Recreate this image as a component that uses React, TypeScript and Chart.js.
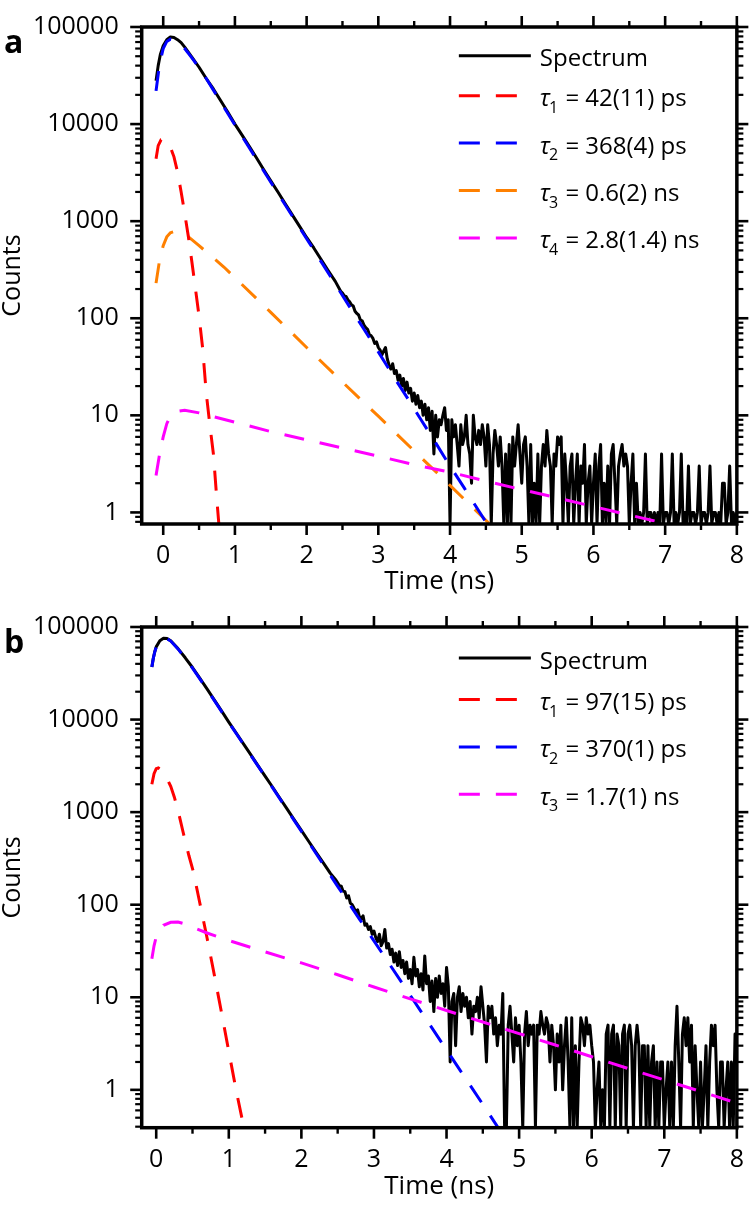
import React, { useEffect, useRef } from "react";
import { Chart, registerables } from "chart.js";

Chart.register(...registerables);

const FAMILY = "'Open Sans', 'Noto Sans', sans-serif";

// ---------- shared axis ticks ----------
const X_TICKS = [0, 1, 2, 3, 4, 5, 6, 7, 8];
const X_MINOR_TICKS = [0.5, 1.5, 2.5, 3.5, 4.5, 5.5, 6.5, 7.5];
const Y_TICKS = [1, 10, 100, 1000, 10000, 100000];
const TAIL_DT = 0.025; // spacing of the noisy histogram channels (ns)

const COLORS = { spectrum: "#000000", red: "#FF0000", blue: "#0000FF", orange: "#FF8000", magenta: "#FF00FF" };

// ---------- panel a ----------
const A_X_MIN = -0.3;
const A_X_MAX = 8;
const A_Y_MIN = 0.76;
const A_Y_MAX = 100000;
const A_LABELS = ["Spectrum", "τ₁ = 42(11) ps", "τ₂ = 368(4) ps", "τ₃ = 0.6(2) ns", "τ₄ = 2.8(1.4) ns"];

const A_SPEC_HEAD_T = [-0.10, -0.07, -0.04, 0.00, 0.05, 0.10, 0.15, 0.20, 0.25, 0.30, 0.40, 0.50, 0.60, 0.70, 0.80, 0.90, 1.00, 1.10, 1.20, 1.30, 1.40, 1.50, 1.60, 1.70, 1.80, 1.90, 2.00, 2.10, 2.20, 2.30, 2.40, 2.475];
const A_SPEC_HEAD_V = [28000, 40000, 52000, 64000, 74000, 79000, 78000, 74000, 69000, 62000, 49000, 38500, 29500, 23000, 17500, 13300, 10000, 7700, 5900, 4500, 3400, 2600, 2000, 1520, 1160, 890, 680, 530, 405, 310, 240, 190];
const A_SPEC_TAIL_T0 = 2.5;
const A_SPEC_TAIL = [
  182, 170, 168, 155, 148, 138, 134, 118, 112, 108, 96, 94, 85, 80, 77, 68, 66, 62, 55, 57, // 2.5
  50, 47, 42, 46, 50, 38, 33, 30, 34, 27, 29, 23, 26, 20, 24, 18, 22, 17, 19, 14, // 3.0
  17, 13, 16, 12, 14, 10, 13, 9, 12, 7, 11, 4, 10, 6, 9, 8, 10, 12, 7, 9, // 3.5
  0, 9, 6, 8, 5, 3, 8, 5, 6, 10, 5, 4, 2, 10, 6, 5, 7, 5, 8, 6, // 4.0
  3, 8, 5, 0, 4, 7, 5, 3, 6, 3, 0, 4, 0, 5, 0, 6, 3, 5, 8, 4, // 4.5
  2, 5, 6, 3, 0, 5, 0, 2, 0, 4, 0, 3, 5, 3, 7, 4, 3, 0, 4, 3, // 5.0
  6, 5, 6, 0, 4, 2, 0, 3, 4, 0, 2, 4, 0, 3, 2, 5, 0, 2, 3, 0, // 5.5
  2, 4, 0, 3, 5, 0, 2, 0, 3, 0, 4, 5, 2, 0, 3, 4, 5, 3, 4, 3, // 6.0
  0, 2, 4, 0, 2, 0, 1, 0, 1, 4, 0, 1, 1, 0, 1, 0, 1, 0, 4, 0, // 6.5
  1, 1, 0, 1, 4, 0, 1, 0, 1, 4, 0, 1, 0, 3, 0, 1, 1, 0, 1, 3, // 7.0
  0, 1, 1, 0, 1, 3, 0, 1, 1, 0, 1, 0, 2, 2, 0, 1, 3, 0, 1, 0, // 7.5
  1, // 8.0
];
const A_T1_T = [-0.10, -0.07, -0.03, 0.00, 0.05, 0.10, 0.15, 0.20, 0.25, 0.30, 0.35, 0.40, 0.45, 0.50, 0.55, 0.60, 0.65, 0.70, 0.75, 0.78];
const A_T1_V = [4400, 6000, 6900, 7000, 6600, 5800, 4600, 3200, 2000, 1200, 700, 380, 200, 105, 49, 17, 8, 4, 1.3, 0.7];
const A_T2_T = [-0.10, -0.05, 0.00, 0.05, 0.10, 0.15, 0.20, 0.30, 0.40, 0.50, 0.60, 0.80, 1.00, 1.20, 1.40, 1.60, 1.80, 2.00, 2.20, 2.40, 2.60, 2.80, 3.00, 3.20, 3.40, 3.60, 3.80, 4.00, 4.20, 4.40, 4.60];
const A_T2_V = [22000, 42000, 60000, 71000, 75000, 74000, 70000, 60000, 48000, 38000, 29500, 17000, 9800, 5700, 3300, 1930, 1130, 660, 385, 225, 131, 77, 45, 26, 15.3, 8.9, 5.2, 3.0, 1.78, 1.04, 0.61];
const A_T3_T = [-0.10, -0.05, 0.00, 0.05, 0.10, 0.15, 0.20, 0.30, 0.50, 0.85, 1.00, 1.50, 2.00, 2.50, 3.00, 3.50, 4.00, 4.50, 4.70];
const A_T3_V = [230, 400, 560, 690, 760, 780, 770, 740, 560, 335, 262, 115, 50, 22, 9.8, 4.3, 1.9, 0.83, 0.6];
const A_T4_T = [-0.10, -0.05, 0.00, 0.05, 0.10, 0.20, 0.30, 0.50, 1.00, 1.50, 2.00, 2.50, 3.00, 3.50, 4.00, 4.50, 5.00, 5.50, 6.00, 6.50, 7.00, 7.20];
const A_T4_V = [2.4, 4.0, 6.0, 8.2, 9.8, 11.0, 11.3, 10.6, 8.5, 6.8, 5.6, 4.6, 3.8, 3.1, 2.6, 2.1, 1.72, 1.41, 1.15, 0.94, 0.77, 0.71];

// ---------- panel b ----------
const B_X_MIN = -0.2;
const B_X_MAX = 8;
const B_Y_MIN = 0.39;
const B_Y_MAX = 100000;
const B_LABELS = ["Spectrum", "τ₁ = 97(15) ps", "τ₂ = 370(1) ps", "τ₃ = 1.7(1) ns"];

const B_SPEC_HEAD_T = [-0.06, -0.04, -0.02, 0.00, 0.05, 0.10, 0.15, 0.20, 0.30, 0.40, 0.50, 0.60, 0.70, 0.80, 0.90, 1.00, 1.10, 1.20, 1.30, 1.40, 1.50, 1.60, 1.70, 1.80, 1.90, 2.00, 2.10, 2.20, 2.30, 2.40, 2.475];
const B_SPEC_HEAD_V = [37000, 46000, 54000, 61000, 71000, 75500, 75000, 71000, 58500, 46500, 36500, 28000, 21500, 16300, 12400, 9400, 7200, 5500, 4200, 3200, 2450, 1880, 1430, 1090, 830, 635, 485, 370, 285, 218, 185];
const B_SPEC_TAIL_T0 = 2.5;
const B_SPEC_TAIL = [
  172, 160, 158, 140, 138, 118, 125, 104, 100, 92, 84, 88, 74, 70, 76, 60, 62, 54, 58, 48, // 2.5
  52, 44, 40, 48, 36, 40, 54, 34, 38, 29, 33, 24, 30, 22, 31, 21, 25, 18, 24, 16, // 3.0
  20, 14, 27, 17, 20, 13, 18, 12, 28, 14, 17, 9, 15, 7, 16, 10, 17, 11, 14, 8, // 3.5
  21, 13, 2, 9, 11, 3, 10, 13, 7, 11, 8, 10, 6, 9, 4, 8, 7, 10, 6, 13, // 4.0
  8, 5, 2, 8, 6, 8, 4, 6, 3, 5, 4, 11, 0, 0, 5, 8, 4, 2, 6, 3, // 4.5
  5, 2, 0, 4, 7, 3, 5, 4, 5, 0, 5, 4, 7, 5, 4, 6, 5, 2, 5, 3, // 5.0
  1, 4, 2, 5, 1, 3, 6, 2, 0, 6, 0, 3, 0, 2, 6, 5, 3, 6, 4, 5, // 5.5
  3, 2, 0, 1, 2, 0, 1, 0, 4, 5, 0, 4, 5, 0, 4, 3, 0, 4, 5, 0, // 6.0
  4, 5, 3, 0, 3, 5, 3, 0, 3, 3, 0, 3, 0, 2, 3, 0, 2, 0, 2, 2, // 6.5
  0, 1, 2, 0, 2, 0, 3, 8, 2, 0, 4, 6, 3, 6, 2, 5, 0, 3, 1, 0, // 7.0
  2, 0, 1, 3, 0, 2, 5, 3, 5, 1, 0, 2, 2, 0, 1, 2, 0, 2, 0, 4, // 7.5
  2, // 8.0
];
const B_T1_T = [-0.06, -0.03, 0.00, 0.03, 0.06, 0.10, 0.15, 0.20, 0.25, 0.30, 0.37, 0.45, 0.51, 0.60, 0.70, 0.80, 0.90, 1.00, 1.10, 1.20, 1.22];
const B_T1_V = [2000, 2600, 2950, 3000, 2900, 2650, 2300, 1900, 1450, 1050, 610, 340, 230, 105, 44, 17.5, 6.8, 2.6, 1.0, 0.42, 0.36];
const B_T2_T = [-0.06, -0.04, -0.02, 0.00, 0.05, 0.10, 0.15, 0.20, 0.30, 0.40, 0.50, 0.70, 1.00, 1.30, 1.60, 1.90, 2.20, 2.50, 2.80, 3.10, 3.40, 3.70, 4.00, 4.30, 4.60, 4.75];
const B_T2_V = [37000, 46000, 54000, 60500, 70500, 75000, 74500, 70500, 58000, 46000, 36000, 21200, 9300, 4150, 1850, 815, 360, 158, 70, 31, 13.8, 6.1, 2.7, 1.2, 0.53, 0.35];
const B_T3_T = [-0.06, -0.03, 0.00, 0.05, 0.10, 0.20, 0.30, 0.40, 0.50, 0.70, 1.00, 1.50, 2.00, 2.50, 3.00, 3.50, 4.00, 4.50, 5.00, 5.50, 6.00, 6.50, 7.00, 7.50, 8.00];
const B_T3_V = [26, 36, 45, 54, 60, 64.5, 65, 62, 57, 49.5, 41, 31, 23.5, 17.5, 12.9, 9.6, 7.2, 5.4, 4.05, 3.05, 2.28, 1.7, 1.28, 0.96, 0.72];

// ---------- helpers ----------
const pairs = (t: number[], v: number[]) => t.map((x, i) => ({ x, y: v[i] }));

// zero-count channels are drawn at the bottom edge of the log axis
const spectrumPoints = (headT: number[], headV: number[], t0: number, tail: number[], yMin: number) =>
  pairs(headT, headV).concat(
    tail.map((c, i) => ({ x: Math.round((t0 + i * TAIL_DT) * 1000) / 1000, y: c > 0 ? c : yMin }))
  );

const SUBS = "₀₁₂₃₄₅₆₇₈₉";

function logTickList(min: number, max: number) {
  const out: { v: number; major: boolean }[] = [];
  for (let e = Math.floor(Math.log10(min)); e <= Math.ceil(Math.log10(max)); e++) {
    for (let m = 1; m < 10; m++) {
      const v = m * Math.pow(10, e);
      if (v >= min * 0.9999 && v <= max * 1.0001) out.push({ v, major: m === 1 });
    }
  }
  return out;
}

function drawLegendLabel(ctx: CanvasRenderingContext2D, text: string, x: number, y: number) {
  ctx.fillStyle = "#000";
  ctx.textAlign = "left";
  ctx.textBaseline = "alphabetic";
  const m = /^τ(.)(.*)$/.exec(text);
  if (!m) {
    ctx.font = `24px ${FAMILY}`;
    ctx.fillText(text, x, y);
    return;
  }
  ctx.font = `italic 24px ${FAMILY}`;
  ctx.fillText("τ", x, y);
  let cx = x + ctx.measureText("τ").width - 1;
  const idx = SUBS.indexOf(m[1]);
  const sub = idx >= 0 ? String(idx) : m[1];
  ctx.font = `16px ${FAMILY}`;
  ctx.fillText(sub, cx, y + 6.5);
  cx += ctx.measureText(sub).width + 1;
  ctx.font = `24px ${FAMILY}`;
  ctx.fillText(m[2], cx, y);
}

interface Decor {
  letter: string;
  firstRow: number;
  tauRow: number;
  rowStep: number;
}

function makeDecor(cfg: Decor) {
  return {
    id: "decor" + cfg.letter,
    afterDatasetsDraw(chart: any) {
      const { ctx, chartArea } = chart;
      const { left, right, top, bottom } = chartArea;
      const xs = chart.scales.x;
      const ys = chart.scales.y;
      ctx.save();
      ctx.strokeStyle = "#000";
      ctx.lineCap = "butt";
      ctx.setLineDash([]);
      const seg = (x1: number, y1: number, x2: number, y2: number) => {
        ctx.beginPath();
        ctx.moveTo(x1, y1);
        ctx.lineTo(x2, y2);
        ctx.stroke();
      };
      ctx.lineWidth = 2.6;
      X_TICKS.forEach((v) => {
        const p = xs.getPixelForValue(v);
        seg(p, bottom, p, bottom + 11);
        seg(p, top, p, top - 11);
      });
      ctx.lineWidth = 2.4;
      X_MINOR_TICKS.forEach((v) => {
        const p = xs.getPixelForValue(v);
        seg(p, bottom, p, bottom + 6);
        seg(p, top, p, top - 6);
      });
      logTickList(ys.min, ys.max).forEach(({ v, major }) => {
        const p = ys.getPixelForValue(v);
        const L = major ? 11.5 : 6.5;
        ctx.lineWidth = major ? 2.6 : 2.2;
        seg(left, p, left - L, p);
        seg(right, p, right + L, p);
      });
      ctx.lineWidth = 3.5;
      ctx.strokeRect(left, top, right - left, bottom - top);

      // legend
      const x0 = right - 278;
      chart.data.datasets.forEach((ds: any, i: number) => {
        const ly = i === 0 ? top + cfg.firstRow : top + cfg.tauRow + (i - 1) * cfg.rowStep;
        ctx.strokeStyle = ds.borderColor;
        ctx.lineWidth = 3;
        if (ds.borderDash && ds.borderDash.length) {
          ctx.setLineDash([21, 16]);
          seg(x0, ly, x0 + 58, ly);
        } else {
          ctx.setLineDash([]);
          seg(x0, ly, x0 + 72, ly);
        }
        ctx.setLineDash([]);
        drawLegendLabel(ctx, ds.label, x0 + 81, ly + 10.5);
      });

      ctx.fillStyle = "#000";
      ctx.font = `bold 32px ${FAMILY}`;
      ctx.textAlign = "left";
      ctx.textBaseline = "alphabetic";
      ctx.fillText(cfg.letter, 4, 53);
      ctx.restore();
    },
  };
}

interface PanelCfg {
  xMin: number;
  xMax: number;
  yMin: number;
  yMax: number;
  padTop: number;
  padRight: number;
  xAxisH: number;
}

function makeOptions(p: PanelCfg): any {
  return {
    responsive: false,
    maintainAspectRatio: false,
    animation: false,
    events: [],
    layout: { padding: { top: p.padTop, right: p.padRight, left: 0, bottom: 0 } },
    plugins: { legend: { display: false }, tooltip: { enabled: false } },
    elements: { point: { radius: 0 }, line: { tension: 0 } },
    scales: {
      x: {
        type: "linear",
        min: p.xMin,
        max: p.xMax,
        afterBuildTicks: (s: any) => {
          s.ticks = X_TICKS.map((value) => ({ value }));
        },
        afterFit: (s: any) => {
          s.height = p.xAxisH;
        },
        grid: { display: false, drawTicks: true, tickLength: 11 },
        border: { display: false },
        ticks: {
          autoSkip: false,
          maxRotation: 0,
          padding: 6,
          color: "#000",
          font: { family: FAMILY, size: 25 },
          callback: (v: any) => String(v),
        },
        title: {
          display: true,
          text: "Time (ns)",
          color: "#000",
          font: { family: FAMILY, size: 26, lineHeight: 1 },
          padding: { top: 0, bottom: 5 },
        },
      },
      y: {
        type: "logarithmic",
        min: p.yMin,
        max: p.yMax,
        afterBuildTicks: (s: any) => {
          s.ticks = Y_TICKS.map((value) => ({ value, major: true }));
        },
        afterFit: (s: any) => {
          s.width = 141.7;
        },
        grid: { display: false, drawTicks: true, tickLength: 11 },
        border: { display: false },
        ticks: {
          autoSkip: false,
          padding: 12,
          color: "#000",
          font: { family: FAMILY, size: 25 },
          callback: (v: any) => String(v),
        },
        title: {
          display: true,
          text: "Counts",
          color: "#000",
          font: { family: FAMILY, size: 25, lineHeight: 1 },
          padding: { top: 0, bottom: 0 },
        },
      },
    },
  };
}

const spectrumDs = (label: string, data: any[]) => ({
  label,
  data,
  borderColor: COLORS.spectrum,
  borderWidth: 3,
  borderJoinStyle: "round",
  pointRadius: 0,
  fill: false,
  order: 10,
});

const fitDs = (label: string, data: any[], color: string, order: number) => ({
  label,
  data,
  borderColor: color,
  borderWidth: 3,
  borderDash: [20, 16],
  borderCapStyle: "butt",
  pointRadius: 0,
  fill: false,
  order,
});

export default function App() {
  const refA = useRef<HTMLCanvasElement | null>(null);
  const refB = useRef<HTMLCanvasElement | null>(null);

  useEffect(() => {
    const chartA = new Chart(refA.current as HTMLCanvasElement, {
      type: "line",
      data: {
        datasets: [
          spectrumDs(A_LABELS[0], spectrumPoints(A_SPEC_HEAD_T, A_SPEC_HEAD_V, A_SPEC_TAIL_T0, A_SPEC_TAIL, A_Y_MIN)),
          fitDs(A_LABELS[1], pairs(A_T1_T, A_T1_V), COLORS.red, 3),
          fitDs(A_LABELS[2], pairs(A_T2_T, A_T2_V), COLORS.blue, 2),
          fitDs(A_LABELS[3], pairs(A_T3_T, A_T3_V), COLORS.orange, 4),
          fitDs(A_LABELS[4], pairs(A_T4_T, A_T4_V), COLORS.magenta, 1),
        ] as any,
      },
      options: makeOptions({ xMin: A_X_MIN, xMax: A_X_MAX, yMin: A_Y_MIN, yMax: A_Y_MAX, padTop: 13, padRight: 12.3, xAxisH: 76 }),
      plugins: [makeDecor({ letter: "a", firstRow: 28.7, tauRow: 68.7, rowStep: 47.4 }) as any],
    });

    const chartB = new Chart(refB.current as HTMLCanvasElement, {
      type: "line",
      data: {
        datasets: [
          spectrumDs(B_LABELS[0], spectrumPoints(B_SPEC_HEAD_T, B_SPEC_HEAD_V, B_SPEC_TAIL_T0, B_SPEC_TAIL, B_Y_MIN)),
          fitDs(B_LABELS[1], pairs(B_T1_T, B_T1_V), COLORS.red, 3),
          fitDs(B_LABELS[2], pairs(B_T2_T, B_T2_V), COLORS.blue, 2),
          fitDs(B_LABELS[3], pairs(B_T3_T, B_T3_V), COLORS.magenta, 1),
        ] as any,
      },
      options: makeOptions({ xMin: B_X_MIN, xMax: B_X_MAX, yMin: B_Y_MIN, yMax: B_Y_MAX, padTop: 15.7, padRight: 11.7, xAxisH: 77.3 }),
      plugins: [makeDecor({ letter: "b", firstRow: 31, tauRow: 72.6, rowStep: 47.3 }) as any],
    });

    return () => {
      chartA.destroy();
      chartB.destroy();
    };
  }, []);

  return (
    <div style={{ position: "absolute", left: 0, top: 0, width: 750, height: 1205, background: "#fff" }}>
      <canvas ref={refA} width={750} height={600} style={{ display: "block" }} />
      <canvas ref={refB} width={750} height={605} style={{ display: "block" }} />
    </div>
  );
}
